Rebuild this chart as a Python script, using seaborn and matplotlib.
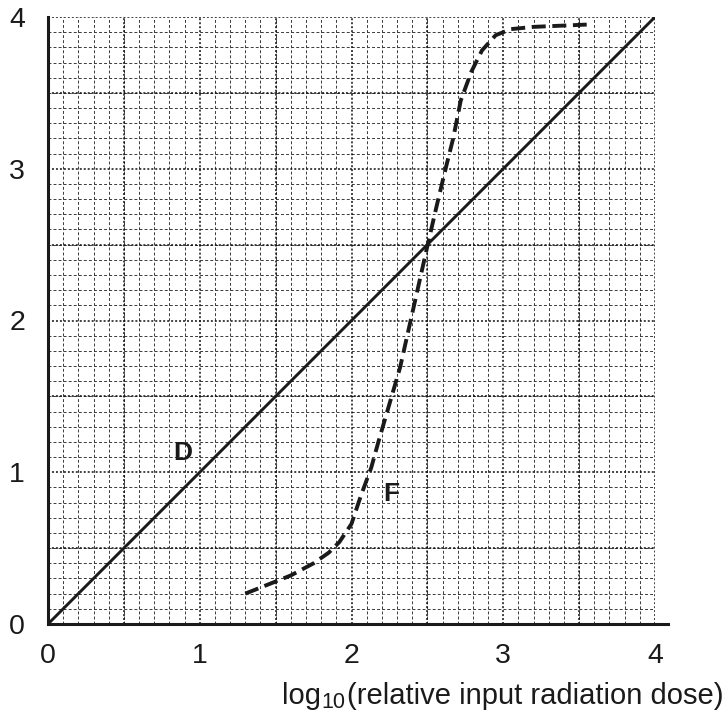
import numpy as np
import pandas as pd
import matplotlib
matplotlib.use("Agg")
import matplotlib.pyplot as plt
import seaborn as sns
from matplotlib.ticker import MultipleLocator

# -----------------------------
# Data
# -----------------------------
d_x = [0.0, 4.0]
d_y = [0.0, 4.0]

f_x = [1.3, 1.45, 1.6, 1.75, 1.85, 1.92, 2.0, 2.06, 2.13, 2.18, 2.25, 2.32,
       2.41, 2.5, 2.56, 2.62, 2.67, 2.72, 2.79, 2.86, 2.95, 3.05, 3.2, 3.55]
f_y = [0.2, 0.26, 0.32, 0.4, 0.47, 0.54, 0.66, 0.84, 1.03, 1.21, 1.45, 1.69,
       2.09, 2.49, 2.75, 3.0, 3.2, 3.45, 3.64, 3.78, 3.88, 3.92, 3.935, 3.95]

ticks = [0, 1, 2, 3, 4]
label_parts = ["log", "10", "(relative input radiation dose)"]

# -----------------------------
# Style
# -----------------------------
sns.set_style("white")
plt.rcParams["font.family"] = ["Liberation Sans", "DejaVu Sans"]

df_d = pd.DataFrame({"x": d_x, "y": d_y})
df_f = pd.DataFrame({"x": f_x, "y": f_y})

fig = plt.figure(figsize=(7.28, 7.16), dpi=100)
ax = fig.add_axes([48 / 728, 92 / 716, 607 / 728, 607 / 716])

# grid: fine every 0.1, heavier dotted every 0.5
ax.xaxis.set_minor_locator(MultipleLocator(0.1))
ax.yaxis.set_minor_locator(MultipleLocator(0.1))
ax.grid(which="minor", color="#3a3a3a", lw=0.7, ls=(0, (3, 2.2)))
for v in np.arange(0.5, 4.01, 0.5):
    ax.axvline(v, color="#111111", lw=1.1, ls=(0, (1.3, 1.3)), zorder=0.6)
    ax.axhline(v, color="#111111", lw=1.1, ls=(0, (1.3, 1.3)), zorder=0.6)
ax.set_axisbelow(True)

# -----------------------------
# Curves
# -----------------------------
sns.lineplot(data=df_d, x="x", y="y", color="#1a1a1a", lw=2.1, ax=ax,
             sort=False, zorder=3)
sns.lineplot(data=df_f, x="x", y="y", color="#1a1a1a", lw=2.8, ax=ax,
             sort=False, zorder=3, dashes=False)
ax.lines[-1].set_dashes((3.6, 1.7))

ax.text(0.89, 1.13, "D", fontsize=19, fontweight="bold", ha="center",
        va="center", color="#1a1a1a")
ax.text(2.26, 0.855, "F", fontsize=19, fontweight="bold", ha="center",
        va="center", color="#1a1a1a")

# -----------------------------
# Axes
# -----------------------------
ax.set_xlim(0, 4)
ax.set_ylim(0, 4)
ax.set_xticks(ticks)
ax.set_yticks(ticks)
ax.set_xticklabels([str(t) for t in ticks])
ax.set_yticklabels([str(t) for t in ticks])
ax.tick_params(which="major", direction="out", length=5.5, width=2,
               color="#1a1a1a", labelsize=20.5, labelcolor="#1a1a1a")
ax.tick_params(which="minor", length=0)
ax.tick_params(axis="x", pad=8)
ax.tick_params(axis="y", pad=11)
ax.set_xlabel("")
ax.set_ylabel("")

for side in ["top", "right"]:
    ax.spines[side].set_visible(False)
for side in ["left", "bottom"]:
    ax.spines[side].set_linewidth(2.2)
    ax.spines[side].set_color("#1a1a1a")
ax.spines["bottom"].set_bounds(0, 4.085)

# x label built from pieces so the subscript is large and low, as in the print
t_log = ax.text(0.3855, -0.1318, label_parts[0], transform=ax.transAxes,
                fontsize=21, ha="left", va="baseline", color="#1a1a1a")
t_sub = ax.annotate(label_parts[1], xy=(1, 0), xycoords=t_log,
                    xytext=(0.5, -2.5), textcoords="offset points",
                    fontsize=15.5, ha="left", va="bottom", color="#1a1a1a")
ax.annotate(label_parts[2], xy=(1, 0), xycoords=(t_sub, t_log),
            xytext=(1, 0), textcoords="offset points",
            fontsize=21, ha="left", va="bottom", color="#1a1a1a")

plt.savefig("out.png", dpi=100)
plt.close()
